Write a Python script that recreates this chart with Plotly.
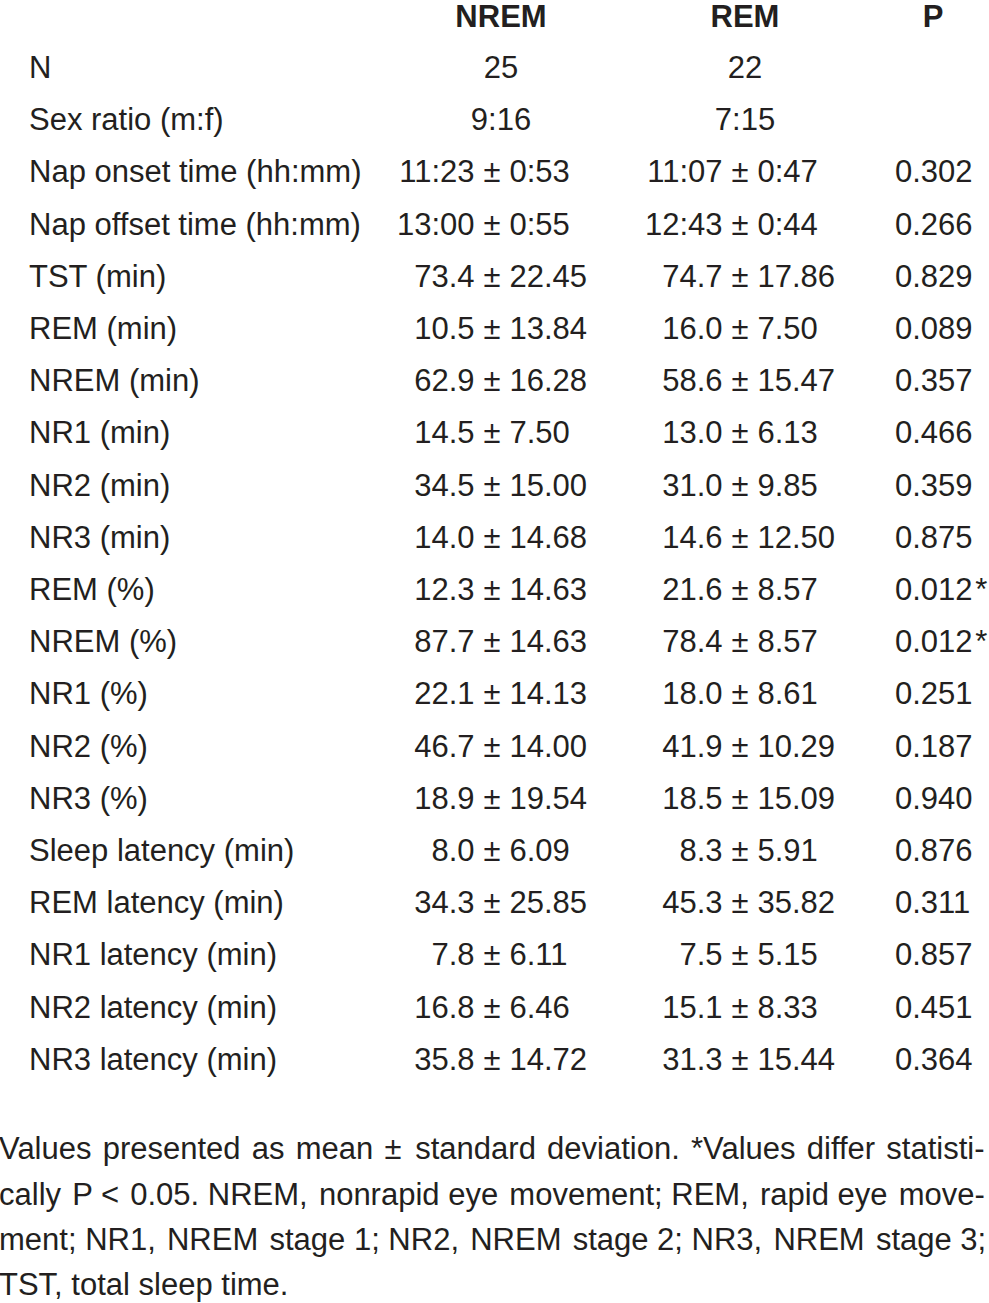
import plotly.graph_objects as go

labels = ["N", "Sex ratio (m:f)", "Nap onset time (hh:mm)", "Nap offset time (hh:mm)",
          "TST (min)", "REM (min)", "NREM (min)", "NR1 (min)", "NR2 (min)", "NR3 (min)",
          "REM (%)", "NREM (%)", "NR1 (%)", "NR2 (%)", "NR3 (%)",
          "Sleep latency (min)", "REM latency (min)", "NR1 latency (min)",
          "NR2 latency (min)", "NR3 latency (min)"]
nrem_mean = ["25", "9:16", "11:23", "13:00", "73.4", "10.5", "62.9", "14.5", "34.5", "14.0",
             "12.3", "87.7", "22.1", "46.7", "18.9", "8.0", "34.3", "7.8", "16.8", "35.8"]
nrem_sd = [None, None, "0:53", "0:55", "22.45", "13.84", "16.28", "7.50", "15.00", "14.68",
           "14.63", "14.63", "14.13", "14.00", "19.54", "6.09", "25.85", "6.11", "6.46", "14.72"]
rem_mean = ["22", "7:15", "11:07", "12:43", "74.7", "16.0", "58.6", "13.0", "31.0", "14.6",
            "21.6", "78.4", "18.0", "41.9", "18.5", "8.3", "45.3", "7.5", "15.1", "31.3"]
rem_sd = [None, None, "0:47", "0:44", "17.86", "7.50", "15.47", "6.13", "9.85", "12.50",
          "8.57", "8.57", "8.61", "10.29", "15.09", "5.91", "35.82", "5.15", "8.33", "15.44"]
p_values = [None, None, "0.302", "0.266", "0.829", "0.089", "0.357", "0.466", "0.359", "0.875",
            "0.012", "0.012", "0.251", "0.187", "0.940", "0.876", "0.311", "0.857", "0.451", "0.364"]
significant = [False] * 10 + [True, True] + [False] * 8
headers = ["NREM", "REM", "P"]
footnote = [
    "Values presented as mean ± standard deviation. *Values differ statisti-",
    "cally P < 0.05. NREM, nonrapid eye movement; REM, rapid eye move-",
    "ment; NR1, NREM stage 1; NR2, NREM stage 2; NR3, NREM stage 3;",
    "TST, total sleep time.",
]

FONT = "Liberation Sans, Arial, Helvetica, sans-serif"
FS = 31
COLOR = "#231f20"

W, H = 989, 1303
ROW0, ROWH = 18, 52.2
HEADER_ROW = 1.5 / ROWH
LABEL_X = 29
COL_CENTER = [501, 745]
PM_X = [492, 740]
GAP = 17.5
P_X = 895
P_HEAD_X = 933
FOOT_Y = [1148, 1194, 1239, 1284]
FOOT_EXTRA = [10, 6, 6, 0]   # hair spaces added to emulate justified text

rows = list(range(1, len(labels) + 1))

fig = go.Figure()


def txt(x, y, text, pos, bold=False):
    fig.add_trace(go.Scatter(
        x=x, y=y, mode="text", text=text, textposition=pos,
        textfont=dict(family=FONT, size=FS, color=COLOR,
                      weight="bold" if bold else "normal"),
        hoverinfo="skip", showlegend=False, cliponaxis=False))


def justify(line, extra):
    words = line.split(" ")
    gaps = len(words) - 1
    if extra <= 0 or gaps <= 0:
        return line
    out = words[0]
    added = 0
    for i, w in enumerate(words[1:], start=1):
        target = round(extra * i / gaps)
        n = target - added
        added = target
        out += " " + "\u200a" * n + w
    return out


# headers
txt([COL_CENTER[0], COL_CENTER[1], P_HEAD_X], [HEADER_ROW] * 3, headers, "middle center", bold=True)
# row labels
txt([LABEL_X] * len(labels), rows, labels, "middle right")

for ci, (means, sds) in enumerate([(nrem_mean, nrem_sd), (rem_mean, rem_sd)]):
    cx, cy, ct = [], [], []
    lx, ly, lt = [], [], []
    rx, ry, rt = [], [], []
    px, py, pt = [], [], []
    for r, m, s in zip(rows, means, sds):
        if s is None:
            cx.append(COL_CENTER[ci]); cy.append(r); ct.append(m)
        else:
            lx.append(PM_X[ci] - GAP); ly.append(r); lt.append(m)
            px.append(PM_X[ci]); py.append(r); pt.append("±")
            rx.append(PM_X[ci] + GAP); ry.append(r); rt.append(s)
    txt(cx, cy, ct, "middle center")
    txt(lx, ly, lt, "middle left")
    txt(px, py, pt, "middle center")
    txt(rx, ry, rt, "middle right")

pr = [r for r, p in zip(rows, p_values) if p is not None]
ptxt = [p + ("\u200a*" if s else "") for p, s in zip(p_values, significant) if p is not None]
txt([P_X] * len(pr), pr, ptxt, "middle right")

annotations = []
for yy, line, ex in zip(FOOT_Y, footnote, FOOT_EXTRA):
    annotations.append(dict(
        x=0, y=1 - yy / H, xref="paper", yref="paper", xshift=-3,
        text=justify(line, ex), showarrow=False, xanchor="left", yanchor="middle",
        font=dict(family=FONT, size=FS, color=COLOR)))

fig.update_layout(
    width=W, height=H, margin=dict(l=0, r=0, t=0, b=0),
    paper_bgcolor="white", plot_bgcolor="white",
    xaxis=dict(range=[0, W], visible=False, fixedrange=True),
    yaxis=dict(range=[(H - ROW0) / ROWH, -ROW0 / ROWH], visible=False, fixedrange=True),
    annotations=annotations,
)

fig.write_html("out.html", post_script="document.body.style.margin='0';",
               config={"displayModeBar": False})
